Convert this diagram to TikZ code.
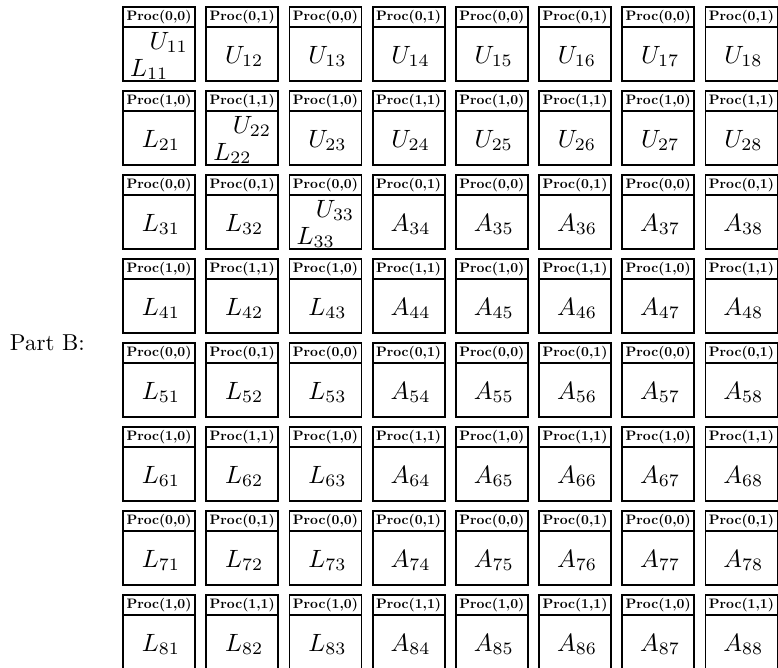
\RequirePackage{fix-cm}
\documentclass[tikz,border=0pt]{standalone}
\begin{document}
\begin{tikzpicture}[x=1pt,y=-1pt,
  cellbox/.style={draw,line width=1.8pt,minimum width=72pt,minimum height=74pt,inner sep=0pt},
  hdrline/.style={line width=1.6pt},
  hdr/.style={inner sep=0pt},
  lbl/.style={inner sep=0pt}]
\useasboundingbox (0,0) rectangle (778,667);
\node[inner sep=0pt,anchor=base east] (partb) at (85,350) {\scalebox{2.3}{Part B:}};
\foreach \r in {0,...,7}{
  \foreach \c in {0,...,7}{
    \pgfmathsetmacro\xl{123+83.2*\c}
    \pgfmathsetmacro\yt{7+84*\r}
    \pgfmathtruncatemacro\pr{mod(\r,2)}
    \pgfmathtruncatemacro\pc{mod(\c,2)}
    \pgfmathtruncatemacro\i{\r+1}
    \pgfmathtruncatemacro\j{\c+1}
    \pgfmathtruncatemacro\kind{(\c<\r && \c<3) ? 1 : ((\c>\r && \r<2) ? 2 : ((\c==\r && \r<3) ? 3 : 4))}
    \node[cellbox] (b\r\c) at (\xl+36,\yt+37) {};
    \draw[hdrline] (\xl,\yt+20) -- (\xl+72,\yt+20);
    \node[hdr] (h\r\c) at (\xl+36,\yt+10.5) {\resizebox{65pt}{!}{\fontsize{10}{12}\selectfont\bfseries Proc(\pr,\pc)}};
    \ifcase\kind
    \or \node[lbl,anchor=base] (t\r\c) at (\xl+38,\yt+56) {\scalebox{2.5}{$L_{\i\j}$}};
    \or \node[lbl,anchor=base] (t\r\c) at (\xl+38,\yt+56) {\scalebox{2.5}{$U_{\i\j}$}};
    \or \node[lbl,anchor=base east] (u\r\c) at (\xl+65,\yt+42) {\scalebox{2.5}{$U_{\i\j}$}};
        \node[lbl,anchor=base west] (l\r\c) at (\xl+7,\yt+69) {\scalebox{2.5}{$L_{\i\j}$}};
    \or \node[lbl,anchor=base] (t\r\c) at (\xl+38,\yt+56) {\scalebox{2.5}{$A_{\i\j}$}};
    \fi
  }
}
\end{tikzpicture}
\end{document}
